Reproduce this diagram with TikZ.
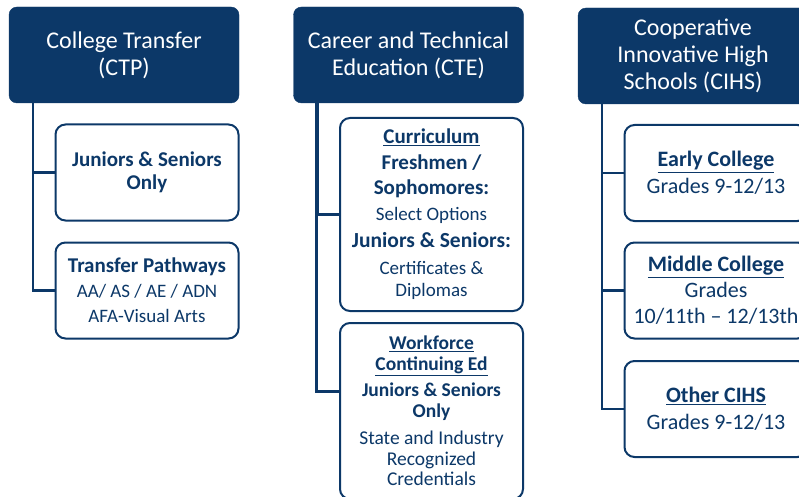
\documentclass[tikz,border=0pt]{standalone}
\usepackage{fontspec}
\setmainfont{Carlito}
\usetikzlibrary{calc}
\definecolor{navy}{RGB}{12,56,104}
\tikzstyle{header}=[rectangle,rounded corners=8pt,fill=navy,draw=navy,text=white,minimum width=230pt,minimum height=96pt,inner sep=0pt,align=center,font=\fontsize{24}{27}\selectfont]
\tikzstyle{leaf}=[rectangle,rounded corners=10pt,draw=navy,line width=2pt,fill=white,text=navy,minimum width=183pt,inner sep=0pt,align=center,font=\fontsize{19}{25}\selectfont]
\tikzstyle{trunk}=[draw=navy,line width=2.5pt]
\newcommand{\ttl}[2][21]{{\fontsize{#1}{23}\selectfont\bfseries #2}}

\begin{document}
\begin{tikzpicture}[x=1pt,y=-1pt]
    \useasboundingbox (0,0) rectangle (799,497);
    \clip (0,0) rectangle (799,497);

    % top row
    \foreach \pos/ \name/ \txt in {{(124,55)/ctp/{College Transfer\\(CTP)}},
                                  {(408.5,55)/cte/{Career and Technical\\Education (CTE)}},
                                  {(693,56)/cihs/{Cooperative\\Innovative High\\Schools (CIHS)}}}
        \node[header] (\name) at \pos {\txt};

    % boxes below
    \foreach \pos/ \name/ \txt in {{(147,172.5)/ctpa/{\ttl{Juniors \& Seniors}\\[-2pt]\ttl{Only}}},
                                  {(147,290.5)/ctpb/{\ttl{Transfer Pathways}\\AA/ AS / AE / ADN\\AFA-Visual Arts}}}
        \node[leaf,minimum height=96pt] (\name) at \pos {\txt};

    \foreach \pos/ \name/ \txt in {{(716,173)/cihsa/{\ttl[22]{\underline{Early College}}\\Grades 9-12/13}},
                                  {(716,290.5)/cihsb/{\ttl[22]{\underline{Middle College}}\\[-1pt]Grades\\[-1pt]10/11th -- 12/13th}},
                                  {(716,409)/cihsc/{\ttl[22]{\underline{Other CIHS}}\\Grades 9-12/13}}}
        \node[leaf,minimum height=96pt,font=\fontsize{22}{27}\selectfont] (\name) at \pos {\txt};

    \node[leaf,minimum height=193pt] (ctea) at (431.5,214.5)
        {\ttl{\underline{Curriculum}}\\[1pt]\ttl{Freshmen /}\\\ttl{Sophomores:}\\[1pt]Select Options\\[2pt]\ttl[21.5]{Juniors \& Seniors:}\\[2pt]Certificates \&\\[-3pt]Diplomas};
    \node[leaf,minimum height=176pt,font=\fontsize{19.5}{20.5}\selectfont] (cteb) at (431.5,411)
        {\ttl[19.5]{\underline{Workforce}}\\[0pt]\ttl[19.5]{\underline{Continuing Ed}}\\[6pt]\ttl[19.5]{Juniors \& Seniors}\\[0pt]\ttl[19.5]{Only}\\[7pt]State and Industry\\Recognized\\Credentials};

    % connect header to boxes
    \foreach \top/ \leaf in {ctp/ctpa, ctp/ctpb, cte/ctea, cihs/cihsa, cihs/cihsb, cihs/cihsc}
        \path[trunk] ($(\top.south west)+(24,0)$) |- (\leaf.west);
    \path[trunk] ($(cte.south west)+(23,0)$) |- ($(cteb.north west)!0.39!(cteb.south west)$);

\end{tikzpicture}
\end{document}
